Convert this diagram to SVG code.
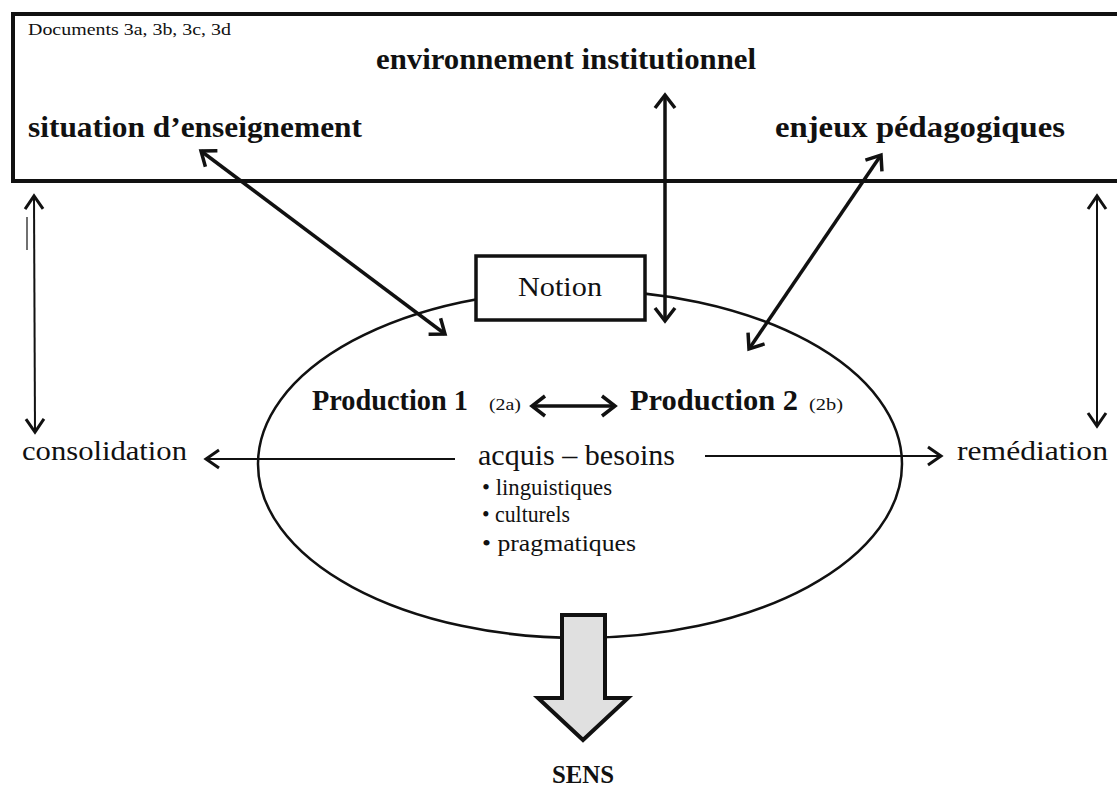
<svg xmlns="http://www.w3.org/2000/svg" width="1117" height="787" viewBox="0 0 1117 787">
<style>
text{font-family:"Liberation Serif","DejaVu Serif",serif;fill:#111}
.b{font-weight:bold}
.thick{stroke:#111;stroke-width:3.5;fill:none}
.thin{stroke:#111;stroke-width:2;fill:none}
</style>
<defs>
<marker id="hk" markerUnits="userSpaceOnUse" markerWidth="40" markerHeight="40" viewBox="-20 -20 40 40" refX="0" refY="0" orient="auto-start-reverse">
<path d="M -13 -10 L 0 0 L -13 10" fill="none" stroke="#111" stroke-width="3.5" stroke-linejoin="miter"/>
</marker>
<marker id="hn" markerUnits="userSpaceOnUse" markerWidth="40" markerHeight="40" viewBox="-20 -20 40 40" refX="0" refY="0" orient="auto-start-reverse">
<path d="M -13 -9 L 0 0 L -13 9" fill="none" stroke="#111" stroke-width="3" stroke-linejoin="miter"/>
</marker>
</defs>
<rect width="1117" height="787" fill="#fff"/>

<g id="context">
<rect x="13" y="14" width="1120" height="167" fill="none" stroke="#111" stroke-width="4"/>
<text x="28" y="35" font-size="17" textLength="203" lengthAdjust="spacingAndGlyphs">Documents 3a, 3b, 3c, 3d</text>
<text class="b" x="376" y="69" font-size="29" textLength="380" lengthAdjust="spacingAndGlyphs">environnement institutionnel</text>
<text class="b" x="28" y="137" font-size="29" textLength="334" lengthAdjust="spacingAndGlyphs">situation d’enseignement</text>
<text class="b" x="775" y="137" font-size="29" textLength="290" lengthAdjust="spacingAndGlyphs">enjeux pédagogiques</text>
</g>

<g id="ellipse">
<ellipse cx="580" cy="464" rx="322" ry="174" fill="none" stroke="#111" stroke-width="2.5"/>
</g>

<g id="notion">
<rect x="476" y="256" width="169" height="64" fill="#fff" stroke="#111" stroke-width="3.5"/>
<text x="560" y="296" font-size="28" text-anchor="middle" textLength="84" lengthAdjust="spacingAndGlyphs">Notion</text>
</g>

<g id="productions">
<text class="b" x="312" y="410" font-size="29" textLength="156" lengthAdjust="spacingAndGlyphs">Production 1</text>
<text x="489" y="410" font-size="17" textLength="32" lengthAdjust="spacingAndGlyphs">(2a)</text>
<text class="b" x="630" y="410" font-size="29" textLength="168" lengthAdjust="spacingAndGlyphs">Production 2</text>
<text x="809" y="410" font-size="17" textLength="34" lengthAdjust="spacingAndGlyphs">(2b)</text>
</g>

<g id="acquis">
<text x="478" y="465" font-size="30" textLength="197" lengthAdjust="spacingAndGlyphs">acquis – besoins</text>
<text x="482" y="495" font-size="23" textLength="130" lengthAdjust="spacingAndGlyphs">• linguistiques</text>
<text x="482" y="522" font-size="23" textLength="88" lengthAdjust="spacingAndGlyphs">• culturels</text>
<text x="482" y="551" font-size="23" textLength="154" lengthAdjust="spacingAndGlyphs">• pragmatiques</text>
</g>

<g id="consolidation">
<text x="22" y="460" font-size="28" textLength="165" lengthAdjust="spacingAndGlyphs">consolidation</text>
</g>
<g id="remediation">
<text x="957" y="460" font-size="28" textLength="151" lengthAdjust="spacingAndGlyphs">remédiation</text>
</g>

<g id="sens">
<path d="M 562 615 L 605 615 L 605 698 L 628 698 L 583 740 L 538 698 L 562 698 Z" fill="#e0e0e0" stroke="#111" stroke-width="4" stroke-linejoin="miter"/>
<text class="b" x="583" y="783" font-size="25" text-anchor="middle" textLength="62" lengthAdjust="spacingAndGlyphs">SENS</text>
</g>

<g id="connectors">
<line class="thick" x1="201" y1="151" x2="445" y2="334" marker-start="url(#hk)" marker-end="url(#hk)"/>
<line class="thick" x1="665" y1="95" x2="665" y2="321" marker-start="url(#hk)" marker-end="url(#hk)"/>
<line class="thick" x1="881" y1="155" x2="749" y2="349" marker-start="url(#hk)" marker-end="url(#hk)"/>
<line class="thick" x1="532" y1="406" x2="615" y2="406" marker-start="url(#hk)" marker-end="url(#hk)"/>
<line class="thin" x1="34" y1="196" x2="35" y2="432" marker-start="url(#hn)" marker-end="url(#hn)"/>
<line class="thin" x1="1097" y1="196" x2="1097" y2="426" marker-start="url(#hn)" marker-end="url(#hn)"/>
<line class="thin" x1="455" y1="459" x2="206" y2="459" marker-end="url(#hn)"/>
<line class="thin" x1="705" y1="456" x2="941" y2="456" marker-end="url(#hn)"/>
<line x1="27" y1="217" x2="27" y2="250" stroke="#111" stroke-width="1.2"/>
</g>
</svg>
